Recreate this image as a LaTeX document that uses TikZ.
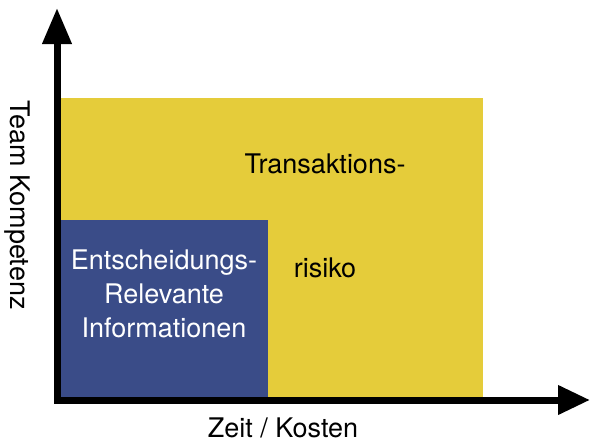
\documentclass[tikz,border=0pt]{standalone}
\usepackage{fontspec}
\setmainfont{TeX Gyre Heros}
\usetikzlibrary{arrows.meta}
\definecolor{risikogelb}{RGB}{229,204,58}
\definecolor{infoblau}{RGB}{58,76,136}
\tikzset{
  achse/.style={line width=7pt, {Triangle[length=36pt,width=28pt]}-{Triangle[length=32pt,width=28pt]}},
  beschriftung/.style={font=\fontsize{27}{34}\selectfont}
}
\begin{document}
\begin{tikzpicture}[x=1pt,y=-1pt]
\useasboundingbox (0,0) rectangle (590,442);
% Flaechen:
\fill[risikogelb] (61,98) rectangle (483,397);
\fill[infoblau] (61,220) rectangle (268,397);
% Achsen:
\coordinate (ytop) at (57,8);
\coordinate (origin) at (57,400);
\coordinate (xend) at (590,400);
\draw[achse] (ytop) -- (origin) -- (xend);
\node (zeit) [beschriftung, inner sep=0pt, anchor=base] at (283,437) {Zeit / Kosten};
\node (team) [beschriftung, rotate=-90] at (17,205) {Team Kompetenz};
\node (trans) [beschriftung] at (325,164) {Transaktions-};
\node (risiko) [beschriftung] at (325,268) {risiko};
\node (info) [beschriftung, white, align=center] at (164,294) {Entscheidungs-\\Relevante\\Informationen};
\end{tikzpicture}
\end{document}
